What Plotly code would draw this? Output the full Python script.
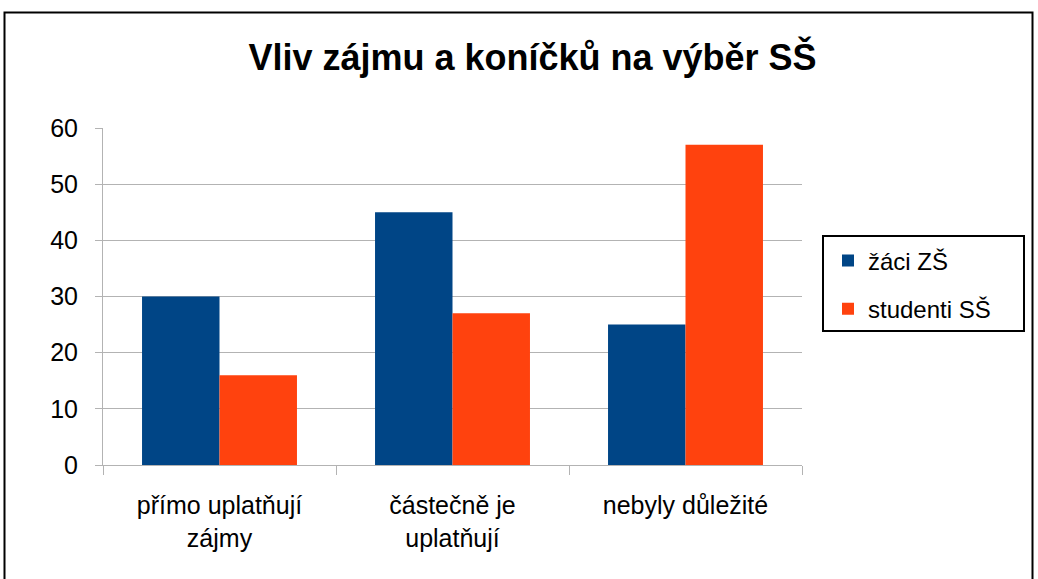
import plotly.graph_objects as go

categories = ["přímo uplatňují<br>zájmy", "částečně je<br>uplatňují", "nebyly důležité"]
series_names = ["žáci ZŠ", "studenti SŠ"]
zaci_zs = [30, 45, 25]
studenti_ss = [16, 27, 57]
colors = ["#004586", "#ff420e"]
title_text = "Vliv zájmu a koníčků na výběr SŠ"

fig = go.Figure()
for name, vals, col, grp in zip(series_names, [zaci_zs, studenti_ss], colors, ["a", "b"]):
    fig.add_trace(go.Bar(x=categories, y=vals, name=name, marker_color=col,
                         marker_line_width=0, legendgroup=grp))

L, R, T, B = 103, 236, 128, 114
W, H = 1038, 579
pw, ph = W - L - R, H - T - B

def px_x(x):
    return (x - L) / pw

def px_y(y):
    return (H - B - y) / ph

fig.update_layout(
    width=W, height=H,
    margin=dict(l=L, r=R, t=T, b=B),
    paper_bgcolor="white", plot_bgcolor="white",
    font=dict(family="Liberation Sans, Arial, sans-serif", color="black", size=25),
    title=dict(text="<b>" + title_text + "</b>", font=dict(size=36, color="black"),
               xref="container", x=0.513, xanchor="center",
               yref="container", y=1 - 57 / H, yanchor="middle"),
    barmode="group", bargap=0.335, bargroupgap=0,
    showlegend=True,
    legend=dict(x=px_x(828), xanchor="left", y=px_y(285), yanchor="middle",
                borderwidth=0, bgcolor="rgba(0,0,0,0)",
                font=dict(size=24), tracegroupgap=14, itemwidth=30,
                traceorder="grouped"),
    xaxis=dict(showline=True, linecolor="#b3b3b3", linewidth=1,
               ticks="outside", tickson="boundaries", ticklen=9, tickcolor="#b3b3b3",
               tickfont=dict(size=25), showgrid=False, ticklabelstandoff=18),
    yaxis=dict(range=[0, 60], dtick=10, showline=True, linecolor="#b3b3b3", linewidth=1,
               ticks="outside", ticklen=7, tickcolor="#b3b3b3",
               showgrid=True, gridcolor="#b3b3b3", gridwidth=1,
               tickfont=dict(size=25), zeroline=False, ticklabelstandoff=12),
    shapes=[
        dict(type="rect", xref="paper", yref="paper",
             x0=px_x(4.5), x1=px_x(1032.5), y0=px_y(12.5), y1=px_y(620),
             line=dict(color="black", width=2), layer="below"),
        dict(type="rect", xref="paper", yref="paper",
             x0=px_x(823), x1=px_x(1024), y0=px_y(236), y1=px_y(331),
             line=dict(color="black", width=2), fillcolor="white", layer="below"),
    ],
)

fig.write_html("out.html", config={"displayModeBar": False},
               post_script="document.body.style.margin='0';")
